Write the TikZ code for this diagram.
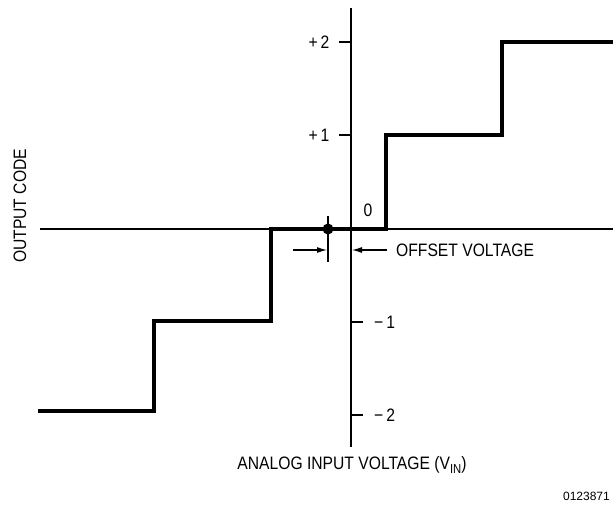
\documentclass[tikz,border=0pt]{standalone}
\usepackage{fontspec}
\setmainfont{Liberation Sans}[FakeStretch=0.87]
\newfontfamily\idfont{Liberation Sans}
\usetikzlibrary{arrows.meta,positioning}

\begin{document}
\begin{tikzpicture}[
      x=1pt, y=-1pt,
      >={Latex[length=10pt,width=6pt]},
      axis/.style={line width=1.1pt},
      stair/.style={line width=3.2pt, line join=miter},
      lbl/.style={font=\fontsize{18}{18}\selectfont, inner sep=0pt},
    ]
      \useasboundingbox (0,0) rectangle (613,504);
      \clip (0,0) rectangle (613,504);
      % axes
      \coordinate (ytop) at (351,8);
      \coordinate (ybot) at (351,447);
      \coordinate (xleft) at (40,229);
      \coordinate (xright) at (613,229);
      \draw[axis] (ytop) -- (ybot);
      \draw[axis] (xleft) -- (xright);
      % ticks and codes
      \draw[axis] (339,42) -- (351,42);
      \draw[axis] (339,135) -- (351,135);
      \draw[axis] (351,322) -- (363,322);
      \draw[axis] (351,415) -- (363,415);
      \node[lbl] (ptwo) at (319,42) {+\,2};
      \node[lbl] (pone) at (319,135) {+\,1};
      \node[lbl] (zero) at (368,210) {0};
      \node[lbl, anchor=west] (mone) at (374,322) {\char"2212\,1};
      \node[lbl, anchor=west] (mtwo) at (374,415) {\char"2212\,2};
      % staircase
      \draw[stair] (38,411) -- (154,411) -- (154,321) -- (271,321) -- (271,229)
        -- (386,229) -- (386,135) -- (502,135) -- (502,42) -- (614,42);
      % offset
      \coordinate (dot) at (328,229);
      \coordinate (dtop) at (328,216);
      \coordinate (dbot) at (328,262);
      \coordinate (lstart) at (293,250);
      \coordinate (lend) at (327,250);
      \coordinate (rstart) at (387,250);
      \coordinate (rend) at (352,250);
      \draw[axis] (dtop) -- (dbot);
      \fill (dot) circle (5.5pt);
      \draw[axis,->] (lstart) -- (lend);
      \draw[axis,->] (rstart) -- (rend);
      \node[lbl, anchor=west] (offset) at (396,250) {OFFSET VOLTAGE};
      % axis titles
      \node[lbl, rotate=90] (ytitle) at (20,206) {OUTPUT CODE};
      \node[lbl] (xtitle) at (352,465) {ANALOG INPUT VOLTAGE (V\raisebox{-0.45ex}{\fontsize{13}{13}\selectfont IN})};
      \node[inner sep=0pt, anchor=east, font=\idfont\fontsize{12}{12}\selectfont] (figid) at (610,496) {0123871};
\end{tikzpicture}
\end{document}
